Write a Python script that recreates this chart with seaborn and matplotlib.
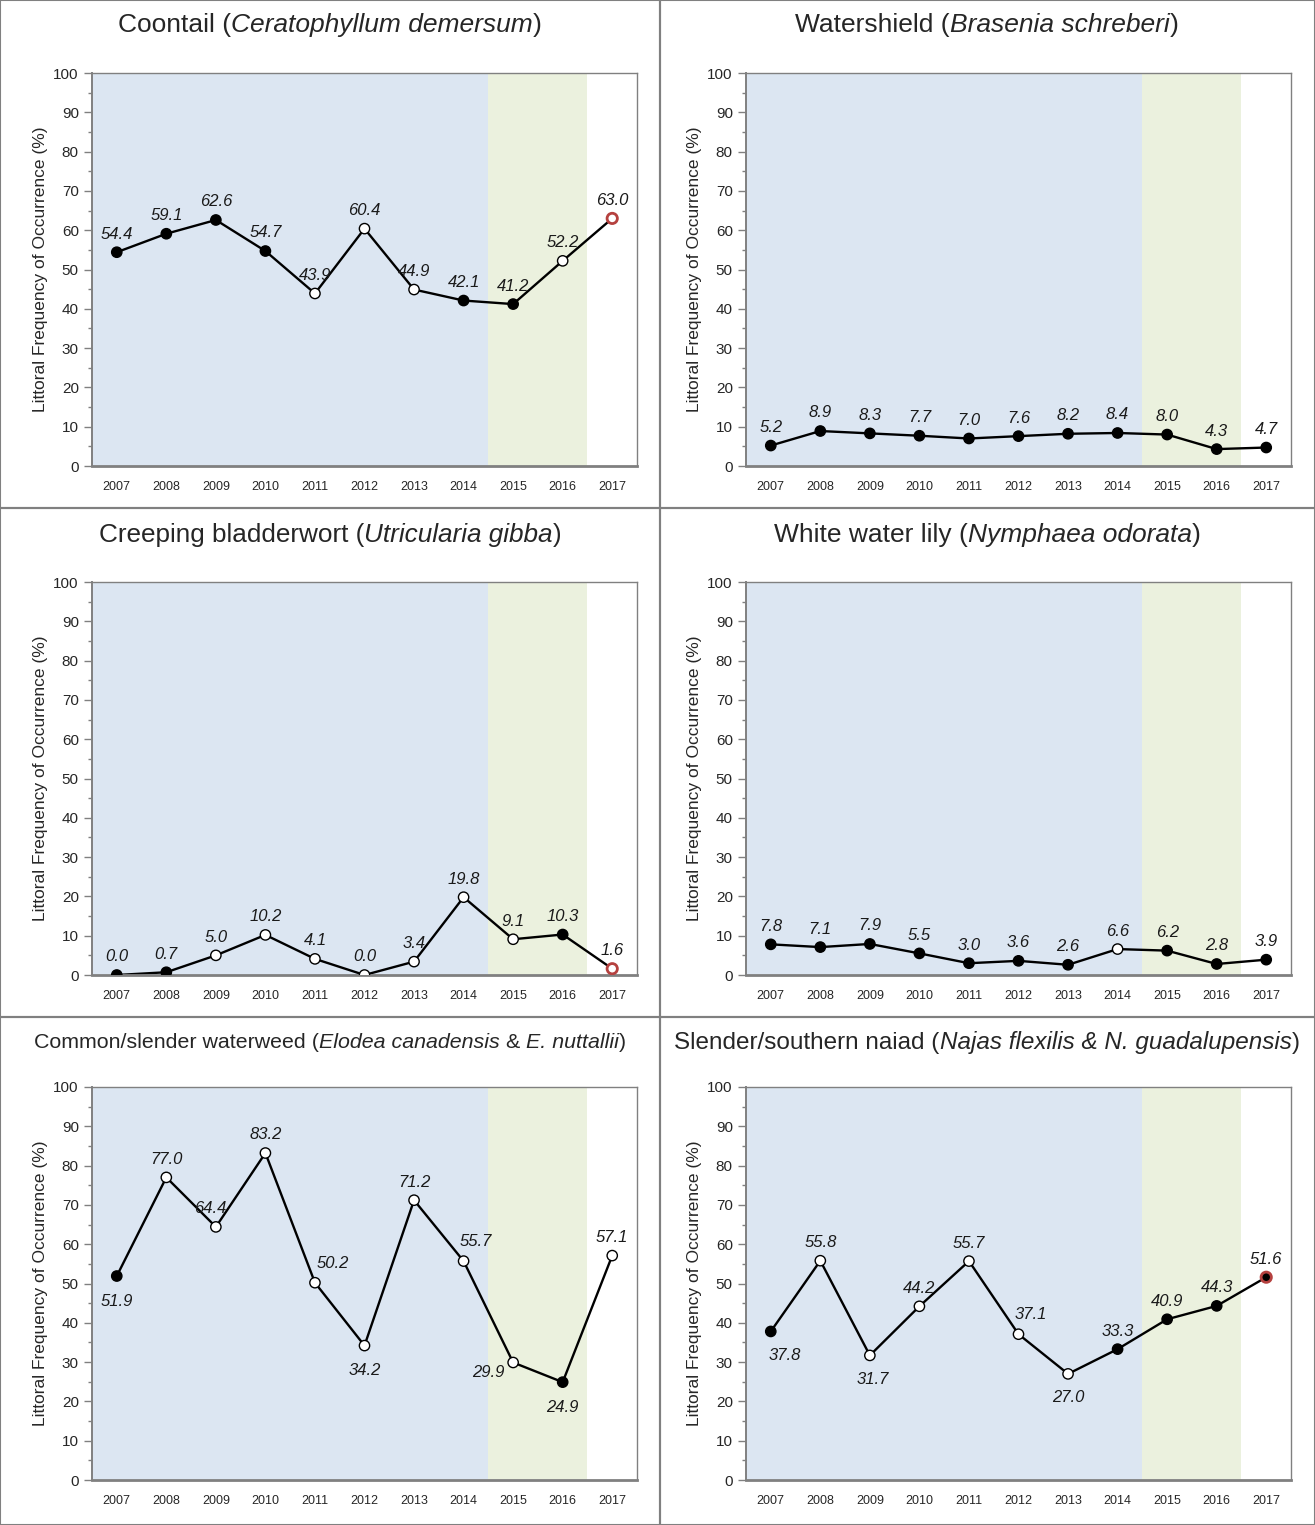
import matplotlib
matplotlib.use("Agg")
import matplotlib.pyplot as plt
from matplotlib.patches import Rectangle
from matplotlib.ticker import MultipleLocator, FixedLocator
import seaborn as sns
import pandas as pd

# data
years = list(range(2007, 2018))

coontail = [54.4, 59.1, 62.6, 54.7, 43.9, 60.4, 44.9, 42.1, 41.2, 52.2, 63.0]
watershield = [5.2, 8.9, 8.3, 7.7, 7.0, 7.6, 8.2, 8.4, 8.0, 4.3, 4.7]
bladderwort = [0.0, 0.7, 5.0, 10.2, 4.1, 0.0, 3.4, 19.8, 9.1, 10.3, 1.6]
water_lily = [7.8, 7.1, 7.9, 5.5, 3.0, 3.6, 2.6, 6.6, 6.2, 2.8, 3.9]
waterweed = [51.9, 77.0, 64.4, 83.2, 50.2, 34.2, 71.2, 55.7, 29.9, 24.9, 57.1]
naiad = [37.8, 55.8, 31.7, 44.2, 55.7, 37.1, 27.0, 33.3, 40.9, 44.3, 51.6]

# marker kind per year: f = filled, o = open, r = open red edge, R = filled red edge
coontail_marks = "ffffoooffor"
watershield_marks = "fffffffffff"
bladderwort_marks = "ffooooooofr"
water_lily_marks = "fffffffofff"
waterweed_marks = "foooooooofo"
naiad_marks = "foooooofffR"

# titles as (text, italic) pieces
titles = [
    [("Coontail (", False), ("Ceratophyllum demersum", True), (")", False)],
    [("Watershield (", False), ("Brasenia schreberi", True), (")", False)],
    [("Creeping bladderwort (", False), ("Utricularia gibba", True), (")", False)],
    [("White water lily (", False), ("Nymphaea odorata", True), (")", False)],
    [("Common/slender waterweed (", False), ("Elodea canadensis", True), (" & ", False),
     ("E. nuttallii", True), (")", False)],
    [("Slender/southern naiad (", False), ("Najas flexilis & N. guadalupensis", True), (")", False)],
]
title_sizes = [19, 19, 18.8, 19, 15.4, 17.5]

ylabel = "Littoral Frequency of Occurrence (%)"

BLUE = "#DCE6F2"
GREEN = "#EBF1DE"
GRAY = "#808080"
RED = "#B5413F"

sns.set_theme(style="white")
plt.rcParams["font.family"] = ["Liberation Sans", "DejaVu Sans"]

fig = plt.figure(figsize=(13.15, 15.25), dpi=100)
renderer = fig.canvas.get_renderer()

# label placement tweaks (offset points), default is centred above
label_offsets = {
    4: {0: (0, -18), 2: (-4, 13), 4: (13, 14), 5: (0, -18), 7: (9, 14), 8: (-18, -7), 9: (0, -18)},
    5: {0: (10, -17), 2: (2, -17), 5: (9, 14), 6: (0, -17)},
}

panels = [
    (coontail, coontail_marks),
    (watershield, watershield_marks),
    (bladderwort, bladderwort_marks),
    (water_lily, water_lily_marks),
    (waterweed, waterweed_marks),
    (naiad, naiad_marks),
]

W, H = 1315, 1525
col_left = [92, 746]
ax_w = 545
row_bottom = [466, 975, 1480]
ax_h = 393
title_y = [25, 535, 1043]
col_center = [330, 987]


def draw_title(parts, cx, cy, fs):
    texts = []
    for s, it in parts:
        t = fig.text(0, cy, s, ha="left", va="center", fontsize=fs,
                     style="italic" if it else "normal")
        texts.append(t)
    widths = [t.get_window_extent(renderer).width for t in texts]
    x = cx - sum(widths) / 2
    for t, w in zip(texts, widths):
        t.set_x(x / W)
        x += w


for i, (vals, marks) in enumerate(panels):
    r, c = divmod(i, 2)
    ax = fig.add_axes([col_left[c] / W, 1 - row_bottom[r] / H, ax_w / W, ax_h / H])

    ax.axvspan(2006.5, 2014.5, color=BLUE, lw=0, zorder=0)
    ax.axvspan(2014.5, 2016.5, color=GREEN, lw=0, zorder=0)

    df = pd.DataFrame({"year": years, "value": vals})
    sns.lineplot(data=df, x="year", y="value", ax=ax, color="black", lw=1.7, zorder=2)

    face = ["black" if m in "fR" else "white" for m in marks]
    edge = [RED if m in "rR" else "black" for m in marks]
    lw = [2.0 if m in "rR" else 1.0 for m in marks]
    ax.scatter(years, vals, s=55, c=face, edgecolors=edge, linewidths=lw, zorder=3)

    offs = label_offsets.get(i, {})
    for j, (x, y) in enumerate(zip(years, vals)):
        dx, dy = offs.get(j, (0, 13))
        ax.annotate(f"{y:.1f}", (x, y), xytext=(dx, dy), textcoords="offset points",
                    ha="center", va="center", fontsize=12, style="italic", color="#1a1a1a")

    ax.set_xlim(2006.5, 2017.5)
    ax.set_ylim(0, 100)
    ax.set_xlabel("")
    ax.set_ylabel(ylabel, fontsize=12.5, labelpad=4)

    ax.xaxis.set_major_locator(FixedLocator(years))
    ax.set_xticklabels([str(y) for y in years], fontsize=9)
    ax.xaxis.set_minor_locator(FixedLocator([y + 0.5 for y in years[:-1]]))
    ax.tick_params(axis="x", which="major", length=0, pad=11)
    ax.tick_params(axis="x", which="minor", direction="inout", length=9, width=1.6, color=GRAY)

    ax.yaxis.set_major_locator(MultipleLocator(10))
    ax.yaxis.set_minor_locator(MultipleLocator(5))
    ax.tick_params(axis="y", which="major", direction="out", length=6, width=1, color=GRAY,
                   labelsize=11, left=True)
    ax.tick_params(axis="y", which="minor", direction="out", length=3, width=1, color=GRAY, left=True)

    for name, sp in ax.spines.items():
        sp.set_color(GRAY)
        sp.set_linewidth(1.0)
    ax.spines["bottom"].set_linewidth(2.0)
    ax.spines["left"].set_linewidth(1.4)

    draw_title(titles[i], col_center[c], 1 - title_y[r] / H, title_sizes[i])

# panel borders
for y0, y1 in [(0, 508), (508, 1017), (1017, 1525)]:
    for x0, x1 in [(0, 660), (660, 1315)]:
        fig.add_artist(Rectangle((x0 / W, 1 - y1 / H), (x1 - x0) / W, (y1 - y0) / H,
                                 transform=fig.transFigure, fill=False, ec=GRAY, lw=1.5))

fig.savefig("out.png", dpi=100)
